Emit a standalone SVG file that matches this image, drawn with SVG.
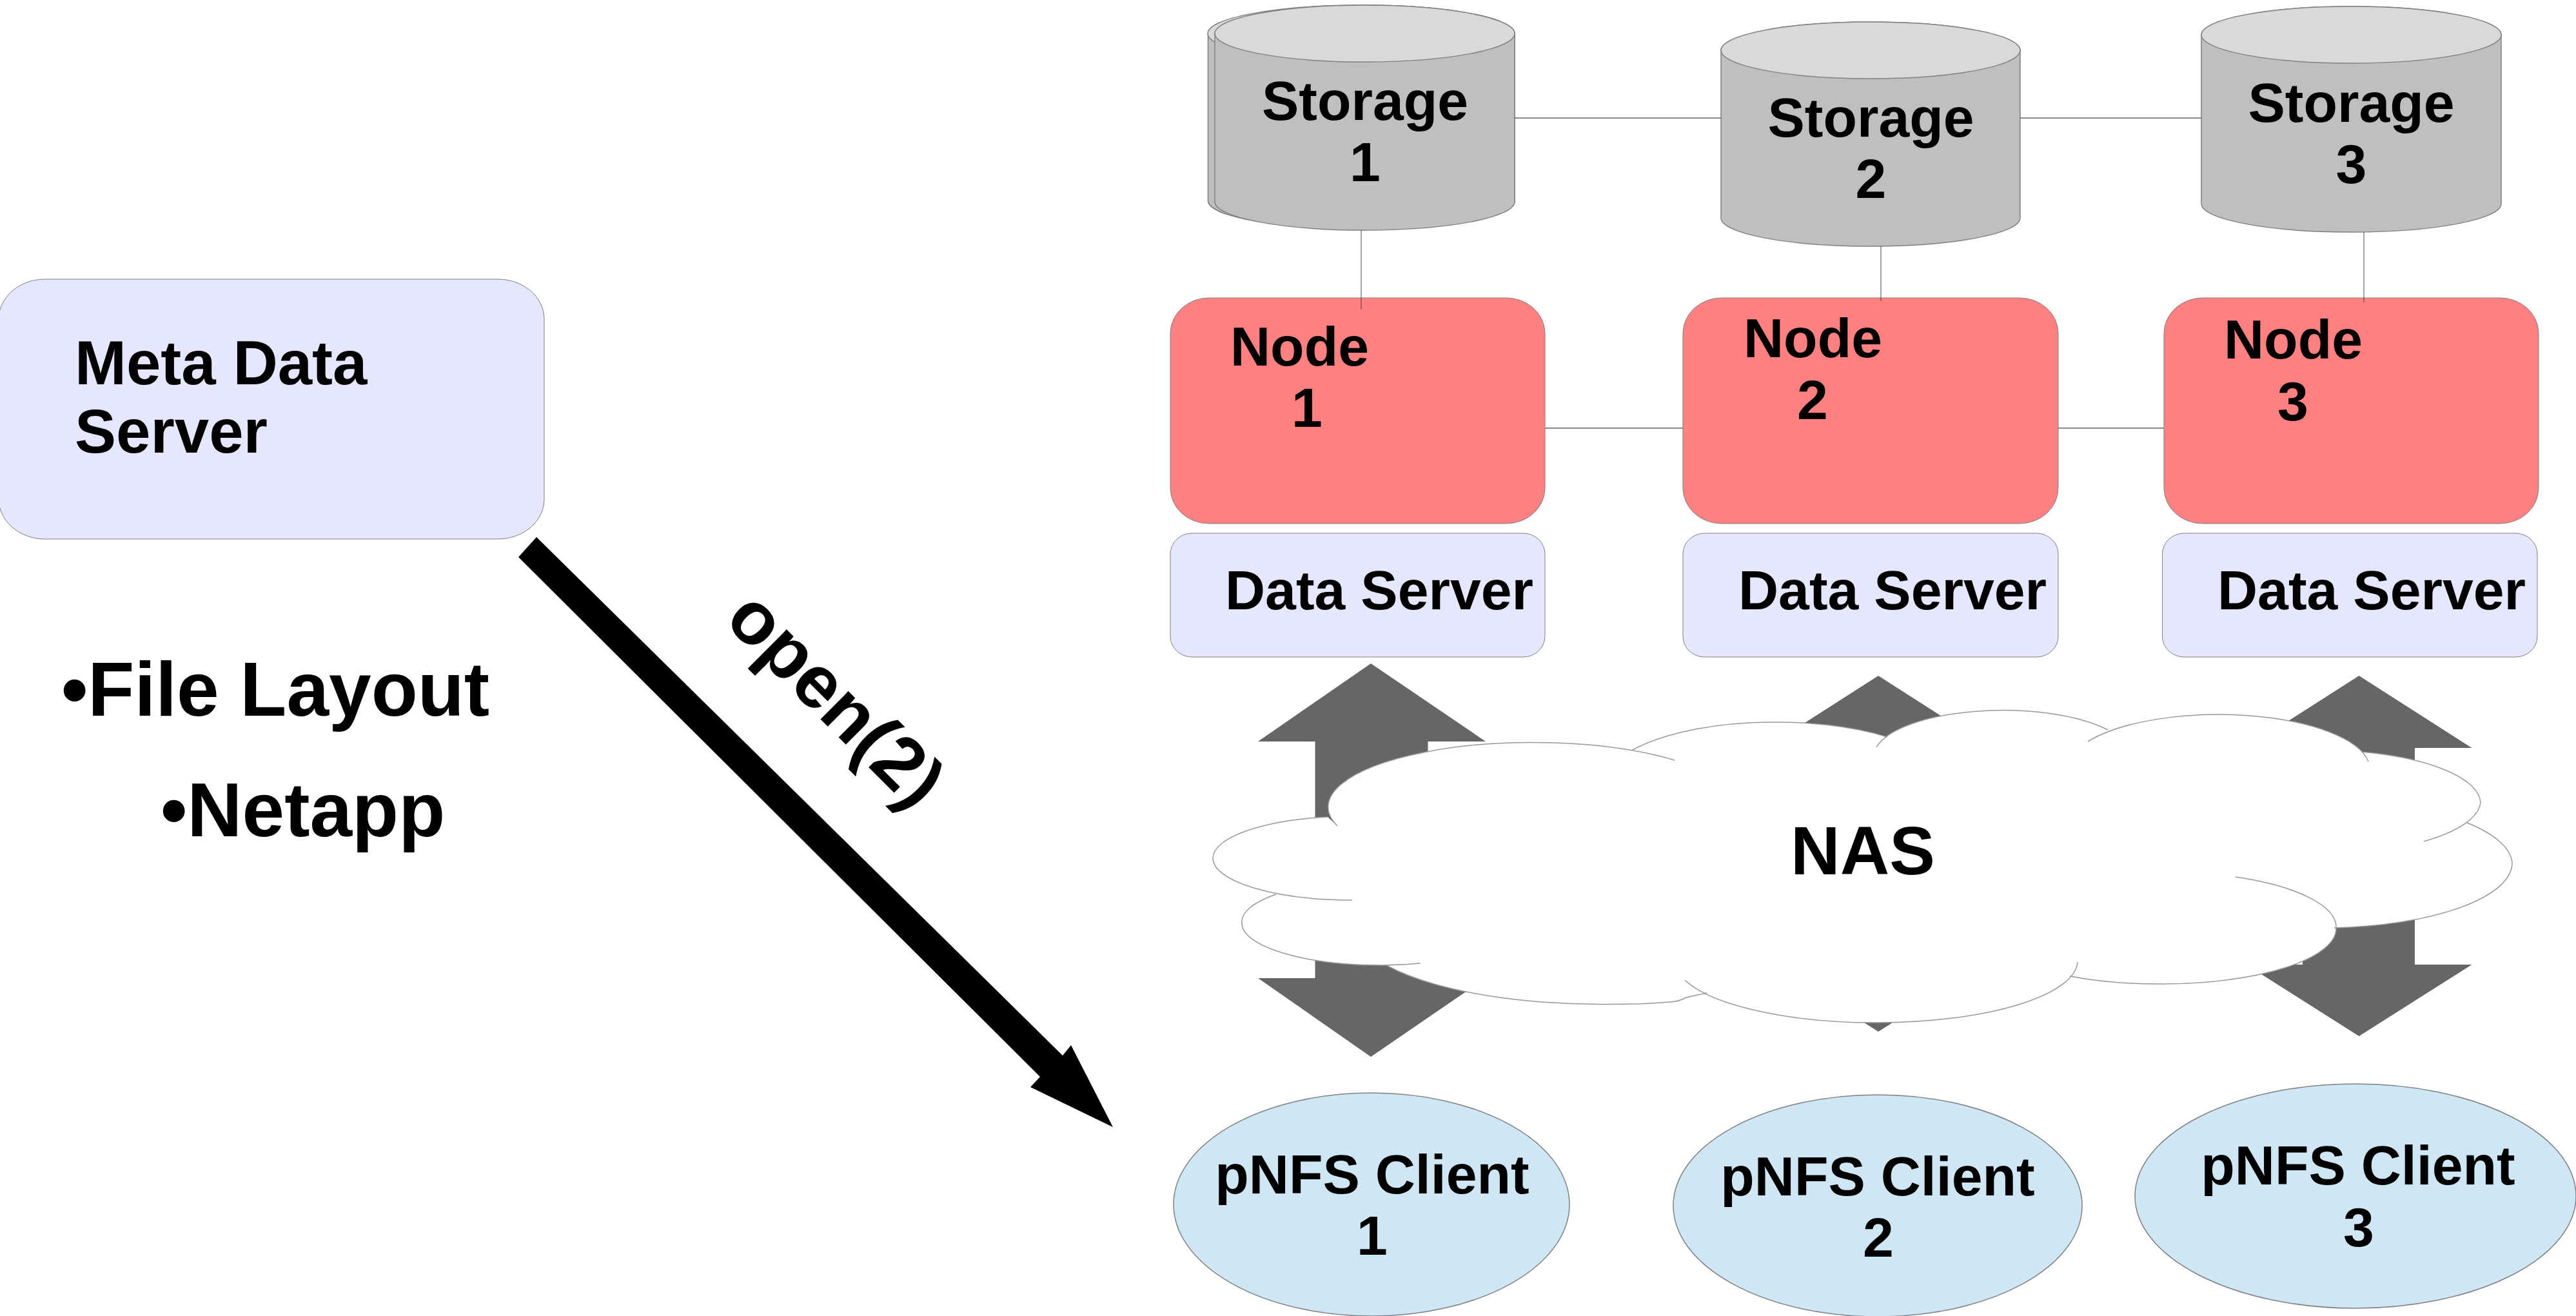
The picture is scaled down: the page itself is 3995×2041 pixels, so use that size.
<svg xmlns="http://www.w3.org/2000/svg" width="3995" height="2041" viewBox="0 0 3995 2041">
<style>
text{font-family:"Liberation Sans",Arial,sans-serif;font-weight:bold;fill:#000}
.s{font-size:86px}
.m{text-anchor:middle}
.body{fill:#bfbfbf;stroke:#808080;stroke-width:1.5}
.top{fill:#d9d9d9;stroke:#808080;stroke-width:1.5}
.node{fill:#ff8080;stroke:#808080;stroke-width:1}
.ds{fill:#e6e6ff;stroke:#808080;stroke-width:1}
.client{fill:#cfe7f5;stroke:#808080;stroke-width:1.5}
.link{stroke:#666;stroke-width:1.5;fill:none}
.block{fill:#666}
.cloudline{fill:none;stroke:#999;stroke-width:1.5}
</style>
<rect width="3995" height="2041" fill="#fff"/>
<g id="storage1">
<path class="body" d="M1873.5 52A238 44 0 0 1 2349 52V313A238 44 0 0 1 1873.5 313Z"/>
<ellipse class="top" cx="2111" cy="52" rx="238" ry="44"/>
<path class="body" d="M1884 52A232.500 44 0 0 1 2349 52V313A232.500 44 0 0 1 1884 313Z"/>
<ellipse class="top" cx="2116.500" cy="52" rx="232.500" ry="44"/>
<text class="s m" x="2117" y="186">Storage</text><text class="s m" x="2117" y="281">1</text>
</g>
<g id="storage2">
<path class="body" d="M2669 78A232 44 0 0 1 3133 78V338A232 44 0 0 1 2669 338Z"/>
<ellipse class="top" cx="2901" cy="78" rx="232" ry="44"/>
<text class="s m" x="2901.500" y="212">Storage</text><text class="s m" x="2901.500" y="307">2</text>
</g>
<g id="storage3">
<path class="body" d="M3414 54A232.500 44 0 0 1 3879 54V316A232.500 44 0 0 1 3414 316Z"/>
<ellipse class="top" cx="3646.500" cy="54" rx="232.500" ry="44"/>
<text class="s m" x="3646.500" y="189">Storage</text><text class="s m" x="3646.500" y="284">3</text>
</g>
<g id="node1">
<rect class="node" x="1815" y="462" width="581" height="350" rx="60" ry="55"/>
<text class="s" x="1908" y="567">Node</text><text class="s m" x="2027" y="662">1</text>
</g>
<g id="node2">
<rect class="node" x="2610" y="462" width="582" height="350" rx="60" ry="55"/>
<text class="s" x="2704" y="554">Node</text><text class="s m" x="2811" y="650">2</text>
</g>
<g id="node3">
<rect class="node" x="3356" y="462" width="581" height="350" rx="60" ry="55"/>
<text class="s" x="3449" y="556">Node</text><text class="s m" x="3556" y="652">3</text>
</g>
<g id="dataserver1">
<rect class="ds" x="1815" y="827" width="581" height="192" rx="34" ry="32"/>
<text class="s" x="1900" y="945">Data Server</text>
</g>
<g id="dataserver2">
<rect class="ds" x="2610" y="827" width="582" height="192" rx="34" ry="32"/>
<text class="s" x="2696" y="945">Data Server</text>
</g>
<g id="dataserver3">
<rect class="ds" x="3353.500" y="827" width="581.500" height="192" rx="34" ry="32"/>
<text class="s" x="3439" y="945">Data Server</text>
</g>
<g id="metadata">
<rect class="ds" x="-2" y="433" width="846" height="403" rx="72" ry="62"/>
<text x="116" y="596" style="font-size:96px">Meta Data</text>
<text x="116" y="702" style="font-size:96px">Server</text>
</g>
<g id="notes">
<text x="95" y="1110" style="font-size:118px">•File Layout</text>
<text x="249" y="1297" style="font-size:118px">•Netapp</text>
</g>
<g id="connectors">
<path class="link" d="M2349 183H2669M3133 183H3414M2396 664H2610M3192 664H3356"/>
<path class="link" style="stroke-width:1;stroke:#444" d="M2111 357V480M2917 382V467M3666 360V469"/>
<path class="block" d="M2126 1029L2304 1150H2214.500V1517H2304L2126 1639L1951 1517H2039.500V1150H1951Z"/>
<path class="block" d="M2913 1048L3088 1160H3000V1489H3088L2913 1600L2738 1489H2826V1160H2738Z"/>
<path class="block" d="M3658.500 1048L3833.500 1160H3745V1496H3833.500L3658.500 1607L3483.500 1496H3571V1160H3483.500Z"/>
<polygon fill="#000" points="804,864 832,833 1648,1637 1661,1621 1726,1748 1598,1686 1613,1670"/>
<text transform="translate(1121 964) rotate(45)" style="font-size:116px">open(2)</text>
</g>
<g id="cloud">
<path fill="#fff" d="M2097 1396A216 65 0 0 1 1881 1331A216 65 0 0 1 2059 1267L2074 1281A318 100 0 0 1 2597 1179L2532 1163A265 95 0 0 1 2927 1143L2910 1159A200 72 0 0 1 3269 1132L3238 1150A235 85 0 0 1 3673 1181L3662 1166A247 83 0 0 1 3847 1245A247 83 0 0 1 3759 1305L3826 1276A296 101 0 0 1 3896 1338A296 101 0 0 1 3620 1439L3467 1360A269 86 0 0 1 3623 1440A269 86 0 0 1 3354 1526A269 86 0 0 1 3210 1514L3222 1492A310 96 0 0 1 2913 1586A310 96 0 0 1 2613 1520L2647 1540L2615 1547Q2605 1553 2590 1554Q2530 1559 2458 1557C2340 1555 2220 1535 2150 1497L2203 1494A217 65 0 0 1 2143 1497A217 65 0 0 1 1926 1432A217 65 0 0 1 1979 1387Z"/>
<path class="cloudline" d="M2097 1396A216 65 0 0 1 1881 1331A216 65 0 0 1 2059 1267M2074 1281A318 100 0 0 1 2597 1179M2532 1163A265 95 0 0 1 2927 1143M2910 1159A200 72 0 0 1 3269 1132M3238 1150A235 85 0 0 1 3673 1181M3662 1166A247 83 0 0 1 3847 1245A247 83 0 0 1 3759 1305M3826 1276A296 101 0 0 1 3896 1338A296 101 0 0 1 3620 1439M3467 1360A269 86 0 0 1 3623 1440A269 86 0 0 1 3354 1526A269 86 0 0 1 3210 1514M3222 1492A310 96 0 0 1 2913 1586A310 96 0 0 1 2613 1520M2647 1540L2615 1547Q2605 1553 2590 1554Q2530 1559 2458 1557C2340 1555 2220 1535 2150 1497M2203 1494A217 65 0 0 1 2143 1497A217 65 0 0 1 1926 1432A217 65 0 0 1 1979 1387"/>
<text class="m" x="2889" y="1356" style="font-size:106px">NAS</text>
</g>
<g id="client1">
<ellipse class="client" cx="2127" cy="1868" rx="307" ry="173"/>
<text class="s m" x="2128" y="1851">pNFS Client</text><text class="s m" x="2128" y="1946">1</text>
</g>
<g id="client2">
<ellipse class="client" cx="2912" cy="1870" rx="317" ry="172"/>
<text class="s m" x="2912" y="1854">pNFS Client</text><text class="s m" x="2913" y="1949">2</text>
</g>
<g id="client3">
<ellipse class="client" cx="3653" cy="1855" rx="342" ry="174"/>
<text class="s m" x="3657" y="1837">pNFS Client</text><text class="s m" x="3658" y="1933">3</text>
</g>
</svg>
